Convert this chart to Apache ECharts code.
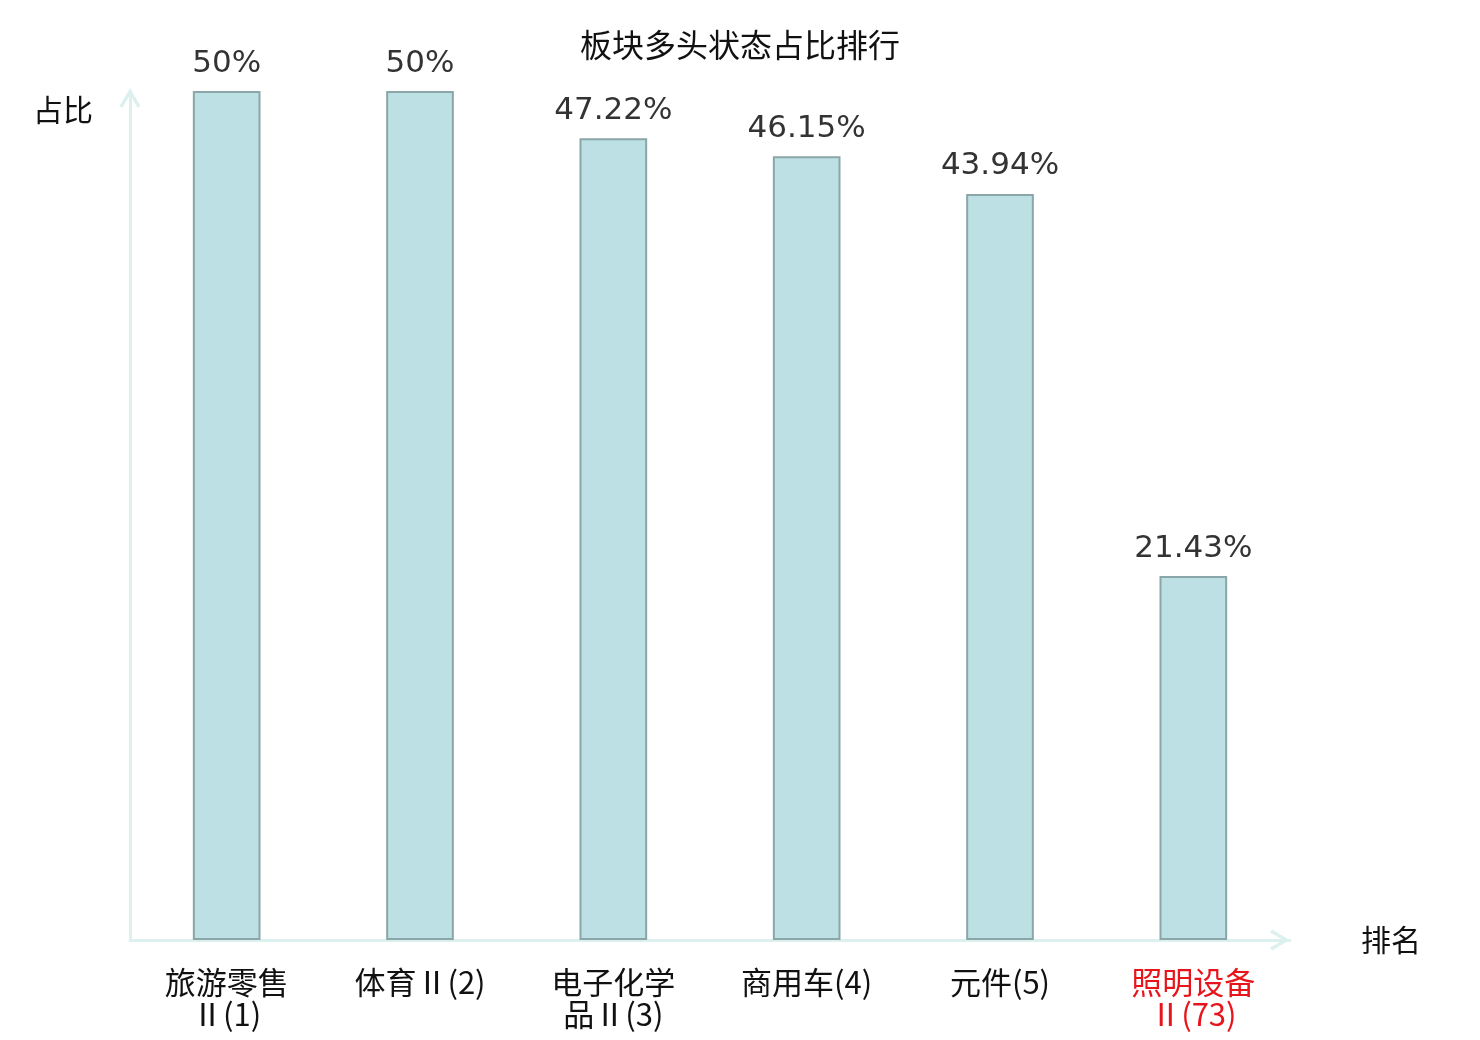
<!DOCTYPE html>
<html style="height: 100%; width:100%">
<head>
    <meta charset="utf-8">
</head>
<body style="height: 100%; width: 100%; margin: 0; background:#fff;">
<div id="container" style="height: 100%;width:100%"></div>
<script type="text/javascript" src="https://cdn.jsdelivr.net/npm/echarts@6/dist/echarts.min.js"></script>
<script type="text/javascript">
    // 板块名(排名)
    var categories = ["旅游零售Ⅱ(1)", "体育Ⅱ(2)", "电子化学品Ⅱ(3)", "商用车(4)", "元件(5)", "照明设备Ⅱ(73)"];
    // 多头状态占比 %
    var ratios = [50, 50, 47.22, 46.15, 43.94, 21.43];
    // 需要标红的类目下标
    var highlightIdx = [5];

    var axisColor = "#dcf0ee";
    var chevron = "path://M10.5,0 L21,17.8 L18,19.6 L10.5,6.6 L3,19.6 L0,17.8 Z";

    var dom = document.getElementById("container");
    var myChart = echarts.init(dom);

    var option = {
        animation: false,
        title: {
            text: "板块多头状态占比排行",
            left: "center",
            top: 24,
            textStyle: {
                fontFamily: "Noto Sans CJK SC",
                fontSize: 32,
                fontWeight: "normal",
                color: "#111"
            }
        },
        grid: {
            left: 130,
            right: 190,
            top: 91,
            bottom: 100
        },
        xAxis: {
            type: "category",
            data: categories,
            name: "排名",
            nameLocation: "end",
            nameGap: 71,
            nameTextStyle: {
                fontFamily: "Noto Sans CJK SC",
                fontSize: 30,
                color: "#111",
                align: "left",
                verticalAlign: "middle"
            },
            axisLine: {
                show: true,
                lineStyle: { color: axisColor, width: 3 },
                symbol: ["none", chevron],
                symbolSize: [21, 20],
                symbolOffset: [0, -10]
            },
            axisTick: { show: false },
            axisLabel: {
                margin: 26,
                fontFamily: "Noto Sans CJK SC",
                fontSize: 31,
                lineHeight: 32,
                interval: 0,
                color: function (value, index) {
                    return highlightIdx.indexOf(index) >= 0 ? "#e8141b" : "#111";
                },
                formatter: function (value) {
                    if (value.length > 6) {
                        return value.slice(0, 4) + "\n" + value.slice(4);
                    }
                    return value;
                }
            }
        },
        yAxis: {
            type: "value",
            min: 0,
            max: 50,
            name: "占比",
            nameLocation: "end",
            nameGap: -19,
            nameTextStyle: {
                fontFamily: "Noto Sans CJK SC",
                fontSize: 30,
                color: "#111",
                align: "right",
                verticalAlign: "middle",
                padding: [0, 37, 0, 0]
            },
            axisLine: {
                show: true,
                lineStyle: { color: axisColor, width: 3 },
                symbol: ["none", chevron],
                symbolSize: [21, 20],
                symbolOffset: [0, -7]
            },
            axisTick: { show: false },
            axisLabel: { show: false },
            splitLine: { show: false }
        },
        series: [{
            type: "bar",
            data: ratios,
            barWidth: "35%",
            itemStyle: {
                color: "#bce0e3",
                borderColor: "#8aa6a8",
                borderWidth: 2
            },
            label: {
                show: true,
                position: "top",
                distance: 12,
                fontFamily: "DejaVu Sans",
                fontSize: 31,
                color: "#333",
                formatter: function (p) {
                    return p.value + "%";
                }
            }
        }]
    };
    myChart.setOption(option, true);

    window.addEventListener("resize", function () {
        myChart.resize();
    });
</script>
</body>
</html>
